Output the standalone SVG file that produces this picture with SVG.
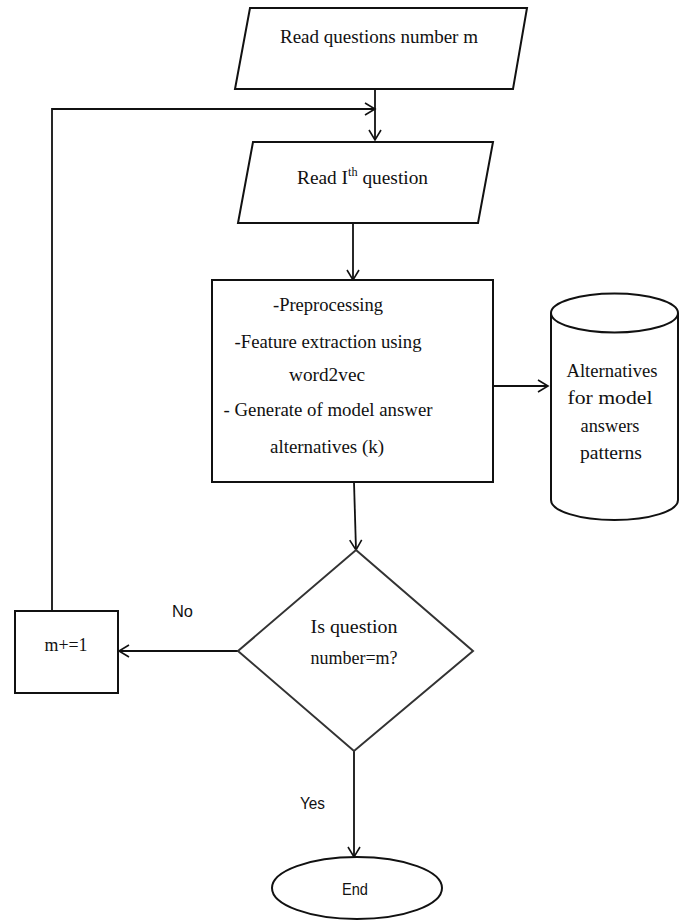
<svg xmlns="http://www.w3.org/2000/svg" width="687" height="922" viewBox="0 0 687 922">
<defs>
<style>
.s{fill:#fff;stroke:#111;stroke-width:2}
.d{fill:#fff;stroke:#333;stroke-width:2}
.c{fill:none;stroke:#111;stroke-width:1.8}
.t{font-family:"Liberation Serif",serif;font-size:19px;fill:#111}
.a{font-family:"Liberation Sans",sans-serif;font-size:17px;fill:#111}
</style>
<marker id="ar" markerWidth="14" markerHeight="14" refX="11" refY="7" orient="auto" markerUnits="userSpaceOnUse">
<path d="M1,1 L11,7 L1,13" fill="none" stroke="#111" stroke-width="1.6"/>
</marker>
</defs>
<rect width="687" height="922" fill="#fff"/>
<g id="connectors">
<line class="c" x1="375" y1="89" x2="375" y2="140" marker-end="url(#ar)"/>
<polyline class="c" points="52,611 52,109 375,109" marker-end="url(#ar)"/>
<line class="c" x1="353" y1="223" x2="353" y2="280" marker-end="url(#ar)"/>
<line class="c" x1="493" y1="386" x2="548" y2="386" marker-end="url(#ar)"/>
<line class="c" x1="354" y1="482" x2="356" y2="550" marker-end="url(#ar)"/>
<line class="c" x1="238" y1="651" x2="119" y2="651" marker-end="url(#ar)"/>
<line class="c" x1="354" y1="751" x2="354" y2="857" marker-end="url(#ar)"/>
<text class="a" x="172" y="617" textLength="21" lengthAdjust="spacingAndGlyphs">No</text>
<text class="a" x="300" y="809" textLength="25" lengthAdjust="spacingAndGlyphs">Yes</text>
</g>
<g id="read-m">
<polygon class="s" points="250,8 527,8 513,89 235,89"/>
<text class="t" x="280" y="43" textLength="198" lengthAdjust="spacingAndGlyphs">Read questions number m</text>
</g>
<g id="read-i">
<polygon class="s" points="253,142 493,142 478,223 238,223"/>
<text class="t" x="297" y="184" textLength="131" lengthAdjust="spacingAndGlyphs">Read I<tspan font-size="12" dy="-8">th</tspan><tspan dy="8"> question</tspan></text>
</g>
<g id="process">
<rect class="s" x="212" y="280" width="281" height="202"/>
<text class="t" x="328" y="311" text-anchor="middle" textLength="110" lengthAdjust="spacingAndGlyphs">-Preprocessing</text>
<text class="t" x="328" y="348" text-anchor="middle" textLength="187" lengthAdjust="spacingAndGlyphs">-Feature extraction using</text>
<text class="t" x="327" y="381" text-anchor="middle" textLength="76" lengthAdjust="spacingAndGlyphs">word2vec</text>
<text class="t" x="328" y="416" text-anchor="middle" textLength="209" lengthAdjust="spacingAndGlyphs">- Generate of model answer</text>
<text class="t" x="327" y="453" text-anchor="middle" textLength="114" lengthAdjust="spacingAndGlyphs">alternatives (k)</text>
</g>
<g id="store">
<path class="s" d="M551,313 L551,500 A63.5,20 0 0 0 678,500 L678,313"/>
<ellipse class="s" cx="614.5" cy="313" rx="63.5" ry="19.5"/>
<text class="t" x="612" y="377" text-anchor="middle" textLength="91" lengthAdjust="spacingAndGlyphs">Alternatives</text>
<text class="t" x="610" y="404" text-anchor="middle" textLength="85" lengthAdjust="spacingAndGlyphs">for model</text>
<text class="t" x="610" y="432" text-anchor="middle" textLength="59" lengthAdjust="spacingAndGlyphs">answers</text>
<text class="t" x="611" y="459" text-anchor="middle" textLength="62" lengthAdjust="spacingAndGlyphs">patterns</text>
</g>
<g id="decision">
<polygon class="d" points="356,550 473,651 354,751 238,651"/>
<text class="t" x="354" y="633" text-anchor="middle" textLength="87" lengthAdjust="spacingAndGlyphs">Is question</text>
<text class="t" x="354" y="664" text-anchor="middle" textLength="87" lengthAdjust="spacingAndGlyphs">number=m?</text>
</g>
<g id="increment">
<rect class="s" x="15" y="611" width="103" height="82"/>
<text class="t" x="66" y="651" text-anchor="middle" textLength="43" lengthAdjust="spacingAndGlyphs">m+=1</text>
</g>
<g id="end">
<ellipse class="s" cx="357" cy="888" rx="85" ry="31"/>
<text class="a" x="355" y="895" text-anchor="middle" textLength="26" lengthAdjust="spacingAndGlyphs">End</text>
</g>
</svg>
